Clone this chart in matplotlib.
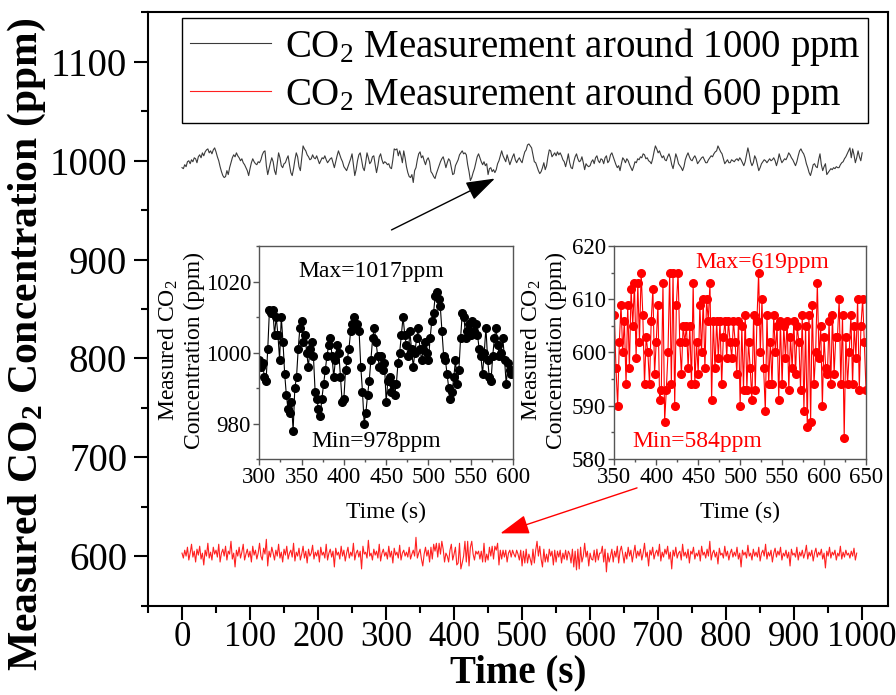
import numpy as np
import matplotlib
matplotlib.use('Agg')
import matplotlib.pyplot as plt
from matplotlib.ticker import MultipleLocator

plt.rcParams['font.family'] = ['Liberation Serif', 'DejaVu Serif']
plt.rcParams['mathtext.fontset'] = 'custom'
plt.rcParams['mathtext.rm'] = 'Liberation Serif'
plt.rcParams['mathtext.bf'] = 'Liberation Serif:bold'
plt.rcParams['mathtext.it'] = 'Liberation Serif:italic'

# ---------------- data (2 s sampling) ----------------
black_start = [0, 300, 602]
black_early = [993, 992, 996, 994, 999, 1000, 997, 1001, 999, 1003, 1002, 998, 1004, 1006, 1003, 1008, 1005, 1009, 1011, 1012,
               1008, 1010, 1007, 1011, 1013, 1009, 1004, 1000, 994, 989, 985, 983, 984, 990, 986, 993, 998, 1003, 1006, 1004,
               1008, 1005, 1003, 1000, 1002, 998, 996, 993, 990, 985, 992, 998, 1002, 999, 997, 996, 999, 998, 1001, 1006,
               1009, 1010, 995, 986, 992, 998, 1003, 999, 990, 986, 997, 1008, 1003, 995, 993, 997, 998, 1002, 1005, 996,
               988, 985, 992, 1001, 1008, 1004, 994, 990, 1003, 1015, 1012, 1010, 1006, 1004, 1001, 1002, 1006, 1003, 1002, 1005,
               1001, 997, 1000, 1003, 1002, 1005, 1001, 998, 1000, 1002, 1003, 998, 993, 999, 1005, 1010, 1006, 1002, 999, 994,
               992, 990, 994, 998, 1002, 1007, 996, 985, 991, 1000, 1006, 1008, 1001, 993, 990, 998, 1008, 1003, 997, 999,
               1004, 1005, 996, 988, 995, 1004, 1007, 1001, 997, 999]
black_mid = [998, 996, 997, 993, 992, 1001, 1012, 1011, 1012, 1005, 1010, 1005, 998, 1010, 1003, 994, 988, 984, 983, 986,
             978, 990, 993, 1001, 1007, 1009, 1003, 1005, 1000, 996, 1001, 1003, 999, 989, 987, 984, 982, 987, 991, 995,
             999, 1002, 1004, 999, 993, 998, 1002, 1000, 993, 986, 987, 995, 998, 1001, 1006, 1008, 1010, 1007, 1008, 1006,
             996, 989, 980, 983, 988, 992, 998, 1004, 1007, 1003, 999, 996, 999, 995, 997, 986, 992, 993, 989, 991,
             988, 991, 997, 1000, 1005, 1010, 1005, 1002, 999, 1006, 1001, 996, 1000, 1004, 1007, 1001, 998, 1001, 1003, 1000,
             998, 1004, 1009, 1011, 1016, 1017, 1015, 1013, 1006, 999, 998, 994, 990, 987, 989, 993, 998, 991, 995, 1004,
             1011, 1010, 1004, 1006, 1008, 1005, 1009, 1006, 1008, 1005, 1001, 999, 994, 1000, 1007, 998, 993, 992, 999, 1004,
             1007, 1002, 999, 1000, 1004, 998, 991, 997, 995, 994, 995]
black_late = [999, 1001, 997, 1003, 1005, 1000, 998, 1002, 1001, 997, 1003, 1005, 998, 1000, 1006, 1008, 1004, 1000, 996, 993,
              995, 990, 997, 1003, 1001, 998, 1002, 1000, 996, 993, 990, 994, 999, 998, 1002, 1001, 1004, 1003, 1007, 1006,
              1002, 1003, 1000, 999, 997, 1002, 1009, 1015, 1012, 1008, 1010, 1006, 1003, 1005, 1001, 1000, 1004, 1007, 1003, 996,
              992, 999, 1007, 1003, 997, 995, 993, 990, 994, 1001, 1005, 1008, 1004, 1001, 1000, 1003, 1005, 1002, 997, 999,
              1001, 1003, 1004, 1001, 998, 998, 1001, 1003, 1005, 1004, 1007, 1009, 1010, 1015, 1012, 1009, 1007, 1002, 997, 999,
              1001, 998, 998, 1001, 1000, 999, 1001, 1002, 1000, 1003, 1001, 998, 995, 999, 1006, 1013, 1007, 999, 995, 998,
              1005, 1002, 996, 990, 993, 997, 999, 1001, 1000, 998, 1000, 1002, 1000, 1001, 1003, 1000, 995, 1000, 1007, 1002,
              998, 1000, 1002, 1001, 1004, 1008, 1006, 1003, 1001, 998, 995, 999, 1005, 1010, 1012, 1009, 1007, 1003, 997, 993,
              988, 985, 990, 996, 997, 994, 993, 1001, 1007, 996, 990, 994, 997, 986, 988, 990, 992, 991, 993, 992,
              994, 993, 993, 996, 998, 999, 1002, 1004, 1007, 1010, 1013, 1003, 1012, 1006, 998, 1003, 1010, 1004, 1000, 1008]

red_start = [0, 350, 652]
red_early = [603, 598, 606, 600, 609, 596, 603, 612, 599, 605, 594, 607, 601, 610, 597, 603, 591, 606, 600, 613,
             598, 604, 596, 609, 602, 606, 599, 612, 594, 603, 607, 600, 610, 596, 605, 602, 615, 597, 603, 589,
             606, 600, 609, 598, 604, 612, 596, 602, 607, 599, 605, 594, 610, 601, 606, 597, 603, 613, 600, 596,
             608, 602, 617, 590, 605, 599, 609, 603, 596, 606, 600, 612, 598, 604, 594, 607, 601, 610, 597, 603,
             606, 599, 613, 595, 604, 600, 608, 596, 602, 610, 598, 605, 593, 607, 600, 603, 611, 597, 604, 600,
             606, 594, 609, 601, 604, 598, 612, 596, 603, 607, 599, 605, 589, 608, 601, 604, 597, 610, 600, 606,
             595, 603, 609, 598, 604, 600, 613, 596, 603, 606, 599, 605, 587, 610, 602, 604, 598, 616, 600, 603,
             596, 607, 601, 605, 598, 612, 595, 603, 607, 600, 604, 597, 610, 599, 605, 593, 608, 601, 604, 598,
             611, 596, 603, 606, 600, 604, 599, 609, 597, 602, 606, 600, 619, 598, 603]
red_mid = [607, 597, 590, 602, 609, 600, 606, 594, 609, 597, 612, 605, 613, 599, 613, 602, 615, 607, 594, 603,
           600, 594, 606, 612, 596, 602, 609, 591, 593, 613, 587, 593, 600, 615, 594, 615, 590, 609, 615, 602,
           596, 605, 602, 605, 597, 605, 594, 613, 594, 602, 596, 609, 600, 610, 597, 610, 606, 613, 591, 606,
           597, 606, 599, 606, 594, 603, 606, 599, 606, 602, 599, 606, 602, 596, 606, 590, 605, 593, 607, 593,
           602, 597, 591, 607, 593, 606, 615, 600, 610, 597, 589, 607, 594, 602, 594, 607, 600, 605, 591, 606,
           594, 605, 599, 606, 593, 603, 597, 606, 596, 605, 602, 593, 607, 589, 605, 586, 607, 587, 609, 594,
           600, 613, 599, 605, 590, 603, 597, 596, 606, 594, 607, 596, 603, 603, 610, 594, 607, 584, 603, 594,
           600, 607, 594, 605, 599, 610, 593, 605, 610, 602, 593]
red_late = [604, 597, 609, 600, 606, 594, 603, 611, 598, 605, 600, 607, 596, 603, 613, 599, 604, 590, 606, 601,
            609, 597, 603, 606, 600, 612, 595, 604, 599, 607, 602, 610, 597, 604, 587, 606, 600, 609, 598, 603,
            605, 596, 612, 600, 604, 598, 607, 593, 605, 602, 609, 597, 603, 600, 606, 595, 610, 601, 604, 598,
            607, 600, 615, 596, 603, 606, 599, 604, 592, 608, 601, 603, 598, 610, 600, 605, 596, 603, 607, 599,
            604, 600, 609, 597, 603, 589, 606, 601, 604, 598, 611, 600, 603, 596, 607, 600, 604, 599, 609, 595,
            603, 606, 600, 612, 597, 604, 600, 606, 594, 603, 608, 599, 605, 601, 609, 596, 603, 600, 606, 598,
            604, 590, 607, 601, 603, 599, 609, 596, 604, 600, 606, 598, 603, 611, 597, 604, 600, 606, 595, 603,
            608, 599, 604, 601, 607, 597, 603, 588, 605, 600, 609, 598, 604, 601, 606, 596, 603, 600, 610, 597,
            604, 599, 606, 601, 603, 598, 605, 600, 608, 596, 603]

legend_labels = [r'CO$_2$ Measurement around 1000 ppm', r'CO$_2$ Measurement around 600 ppm']
inset1_range = (300, 600)
inset2_range = (350, 650)


def assemble(starts, segs, end=1000):
    ts, vs = [], []
    bounds = starts[1:] + [end + 2]
    for s, b, seg in zip(starts, bounds, segs):
        t = s + 2 * np.arange(len(seg))
        v = np.asarray(seg, dtype=float)
        m = t < b
        ts.append(t[m]); vs.append(v[m])
    return np.concatenate(ts), np.concatenate(vs)


tb, vb = assemble(black_start, [black_early, black_mid, black_late])
tr, vr = assemble(red_start, [red_early, red_mid, red_late])

# ---------------- figure ----------------
W, H = 896, 695
fig = plt.figure(figsize=(W / 100, H / 100), dpi=100)


def rect(x0, y0, x1, y1):
    return [x0 / W, 1 - y1 / H, (x1 - x0) / W, (y1 - y0) / H]


ax = fig.add_axes(rect(148, 12, 888, 606))
l1, = ax.plot(tb, vb, color='#3a3a3a', lw=0.8)
l2, = ax.plot(tr, vr, color='#ff2020', lw=0.8)
ax.set_xlim(-50, 1038)
ax.set_ylim(549.5, 1150.5)
ax.xaxis.set_major_locator(MultipleLocator(100))
ax.xaxis.set_minor_locator(MultipleLocator(50))
ax.yaxis.set_major_locator(MultipleLocator(100))
ax.yaxis.set_minor_locator(MultipleLocator(50))
ax.tick_params(which='major', direction='out', length=10, width=1.5, labelsize=28, pad=5)
ax.tick_params(axis='x', which='major', labelsize=25, pad=1)
ax.tick_params(which='minor', direction='out', length=5, width=1.5)
for sp in ax.spines.values():
    sp.set_linewidth(1.5)
ax.set_xlabel('Time (s)', fontsize=28, fontweight='bold')
ax.xaxis.set_label_coords(0.5, -0.082)
ax.set_ylabel(r'Measured CO$_\mathbf{2}$ Concentration (ppm)', fontsize=30, fontweight='bold')
ax.yaxis.set_label_coords(-0.135, 0.44)

leg = ax.legend([l1, l2], legend_labels, loc='upper left', fontsize=28,
                bbox_to_anchor=(182 / W, 1 - 18 / H), bbox_transform=fig.transFigure,
                frameon=True, fancybox=False, framealpha=1, edgecolor='black',
                handlelength=2.1, handletextpad=0.35, labelspacing=0.15, borderpad=0.2,
                borderaxespad=0)
leg.get_frame().set_linewidth(1.0)

# arrows
ax.annotate('', xy=(460, 982), xytext=(308, 930),
            arrowprops=dict(arrowstyle='-|>,head_length=0.9,head_width=0.3', color='black', lw=1,
                            mutation_scale=20, shrinkA=0, shrinkB=0))
ax.annotate('', xy=(468, 623), xytext=(669, 669),
            arrowprops=dict(arrowstyle='-|>,head_length=0.9,head_width=0.3', color='red', lw=1,
                            mutation_scale=20, shrinkA=0, shrinkB=0))

# insets
def style_inset(a, xr, yr, ymaj, ymin):
    a.set_xlim(*xr)
    a.set_ylim(*yr)
    a.xaxis.set_major_locator(MultipleLocator(50))
    a.xaxis.set_minor_locator(MultipleLocator(25))
    a.yaxis.set_major_locator(MultipleLocator(ymaj))
    a.yaxis.set_minor_locator(MultipleLocator(ymin))
    a.tick_params(which='major', direction='out', length=4, width=1, labelsize=16.5, pad=2, color='#555555')
    a.tick_params(which='minor', direction='out', length=2, width=1, color='#555555')
    for sp in a.spines.values():
        sp.set_linewidth(1.0)
        sp.set_color('#555555')
    a.set_xlabel('Time (s)', fontsize=17)
    a.xaxis.set_label_coords(0.5, -0.2)


ax1 = fig.add_axes(rect(259.3, 246, 513, 459))
m1 = (tb >= inset1_range[0]) & (tb <= inset1_range[1])
ax1.plot(tb[m1], vb[m1], '-o', color='black', lw=0.8, ms=5.5)
style_inset(ax1, inset1_range, (970, 1030), 20, 10)
ax1.set_ylabel('Measured CO$_2$\nConcentration (ppm)', fontsize=17, linespacing=1.2)
ax1.yaxis.set_label_coords(-0.309, 0.51)
ax1.yaxis.label.set_verticalalignment('center')
ax1.text(0.439, 0.879, 'Max=1017ppm', transform=ax1.transAxes, fontsize=17, ha='center', va='center')
ax1.text(0.459, 0.081, 'Min=978ppm', transform=ax1.transAxes, fontsize=17, ha='center', va='center')

ax2 = fig.add_axes(rect(614.3, 246, 866, 459))
m2 = (tr >= inset2_range[0]) & (tr <= inset2_range[1])
ax2.plot(tr[m2], vr[m2], '-o', color='red', lw=0.8, ms=5.5)
style_inset(ax2, inset2_range, (580, 620), 10, 5)
ax2.set_ylabel('Measured CO$_2$\nConcentration (ppm)', fontsize=17, linespacing=1.2)
ax2.yaxis.set_label_coords(-0.281, 0.51)
ax2.yaxis.label.set_verticalalignment('center')
ax2.text(0.587, 0.922, 'Max=619ppm', transform=ax2.transAxes, fontsize=17, ha='center', va='center', color='red')
ax2.text(0.329, 0.081, 'Min=584ppm', transform=ax2.transAxes, fontsize=17, ha='center', va='center', color='red')

fig.savefig('out.png', dpi=100)
